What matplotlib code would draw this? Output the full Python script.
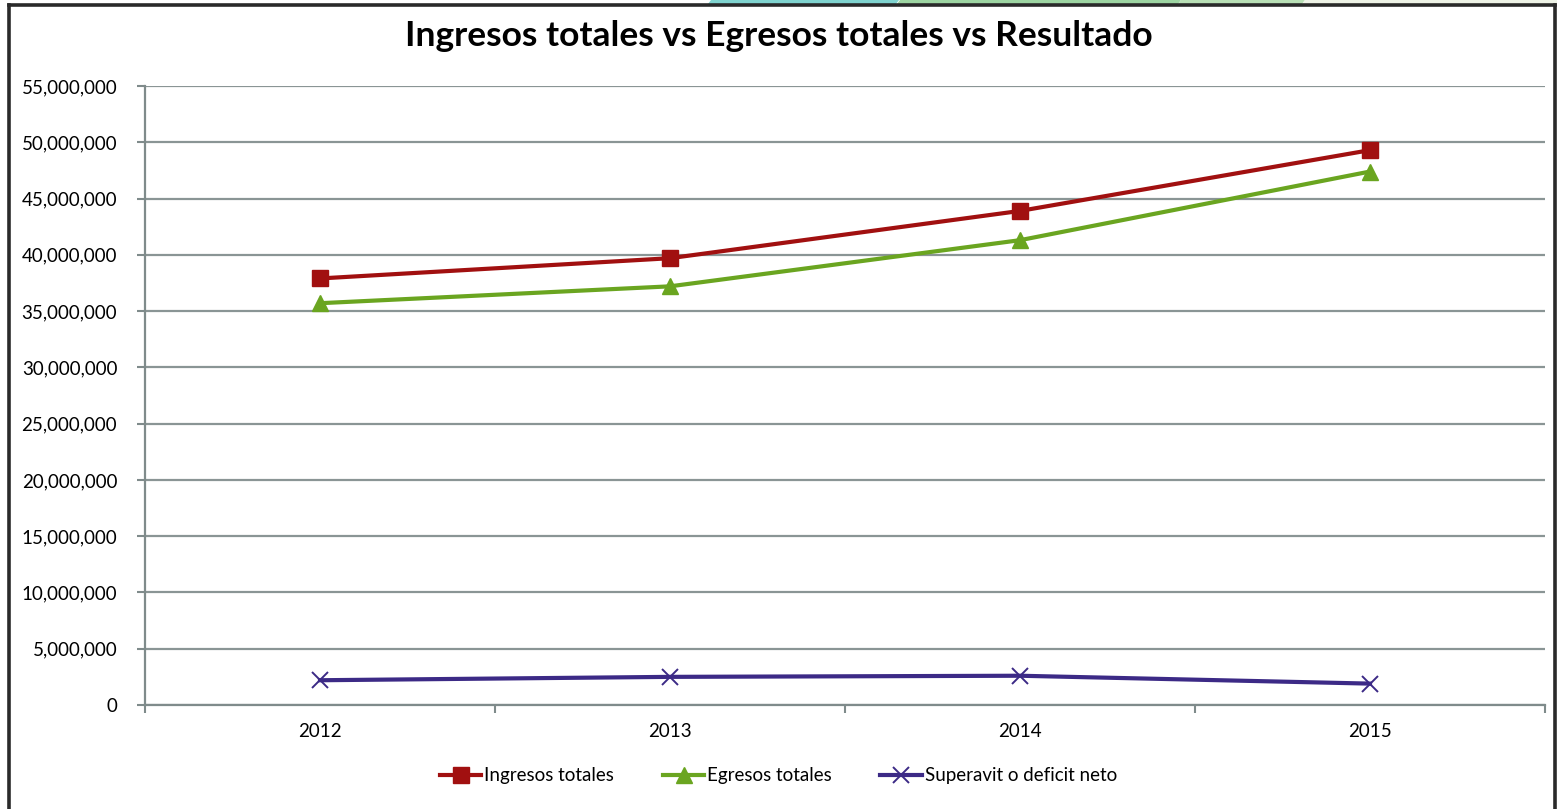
import numpy as np
import matplotlib.pyplot as plt
from matplotlib.patches import Polygon
from matplotlib.lines import Line2D
from matplotlib.ticker import FuncFormatter, FixedLocator

plt.rcParams['font.family'] = ['Lato', 'DejaVu Sans']

# Datos anuales
years = ['2012', '2013', '2014', '2015']
ingresos = [37.9e6, 39.7e6, 43.9e6, 49.3e6]
egresos = [35.7e6, 37.2e6, 41.3e6, 47.4e6]
resultado = [2.2e6, 2.5e6, 2.6e6, 1.9e6]

W, H = 1557, 809
fig = plt.figure(figsize=(W / 100, H / 100), dpi=100)
fig.patch.set_facecolor('white')

# franja decorativa superior
def fx(px):
    return px / W

def fy(py):
    return 1 - py / H

strips = [((708, 896), '#7fd3cf'), ((897, 1178), '#9dd5a2'), ((1178, 1302), '#b9e0b6'), ((1302, 1557), '#eef3e6')]
for (x0, x1), c in strips:
    poly = Polygon([(fx(x0 + 3), fy(0)), (fx(x1 + 3), fy(0)), (fx(x1), fy(4)), (fx(x0), fy(4))],
                   closed=True, transform=fig.transFigure, facecolor=c, edgecolor='none')
    fig.add_artist(poly)

# marco
frame_kw = dict(transform=fig.transFigure, color='#2a2a2a', linewidth=2.6, solid_capstyle='projecting')
fig.add_artist(Line2D([fx(9), fx(1555)], [fy(5), fy(5)], **frame_kw))
fig.add_artist(Line2D([fx(9), fx(9)], [fy(5), 0], **frame_kw))
fig.add_artist(Line2D([fx(1555), fx(1555)], [fy(5), 0], **frame_kw))

ax = fig.add_axes([145 / W, 1 - 705 / H, 1400 / W, 619 / H])

x = np.arange(len(years))
ax.plot(x, ingresos, color='#a11010', linewidth=3, marker='s', markersize=11,
        label='Ingresos totales', zorder=4)
ax.plot(x, egresos, color='#6aa520', linewidth=3, marker='^', markersize=11,
        label='Egresos totales', zorder=3)
ax.plot(x, resultado, color='#3c2a86', linewidth=3, marker='x', markersize=11,
        markeredgewidth=1.4, label='Superavit o deficit neto', zorder=3)

ax.set_xlim(-0.5, len(years) - 0.5)
ax.set_ylim(0, 55e6)
ax.set_yticks(np.arange(0, 55e6 + 1, 5e6))
ax.yaxis.set_major_formatter(FuncFormatter(lambda v, p: f'{v:,.0f}'))

ax.xaxis.set_major_locator(FixedLocator(np.arange(-0.5, len(years), 1.0)))
ax.xaxis.set_major_formatter(FuncFormatter(lambda v, p: ''))
ax.xaxis.set_minor_locator(FixedLocator(x))
ax.set_xticklabels(years, minor=True)
ax.tick_params(axis='x', which='minor', length=0, pad=13, labelsize=13.5)
ax.tick_params(axis='x', which='major', length=6, width=1.5, color='#7f8b8b', direction='out')
ax.tick_params(axis='y', length=6, width=1.5, color='#7f8b8b', direction='out', labelsize=13.5, pad=14)

ax.grid(axis='y', color='#8a9595', linewidth=1.6)
ax.set_axisbelow(True)
for s in ['top', 'right']:
    ax.spines[s].set_visible(False)
for s in ['left', 'bottom']:
    ax.spines[s].set_color('#7f8b8b')
    ax.spines[s].set_linewidth(1.6)

fig.text(0.5, fy(36), 'Ingresos totales vs Egresos totales vs Resultado',
         ha='center', va='center', fontsize=25.5, fontweight='bold')

fig.legend(loc='center', bbox_to_anchor=(0.5, fy(776)), ncol=3, frameon=False,
           fontsize=13.5, handlelength=2.2, handletextpad=0.15, columnspacing=2.6)

fig.savefig('out.png', dpi=100, facecolor='white')
